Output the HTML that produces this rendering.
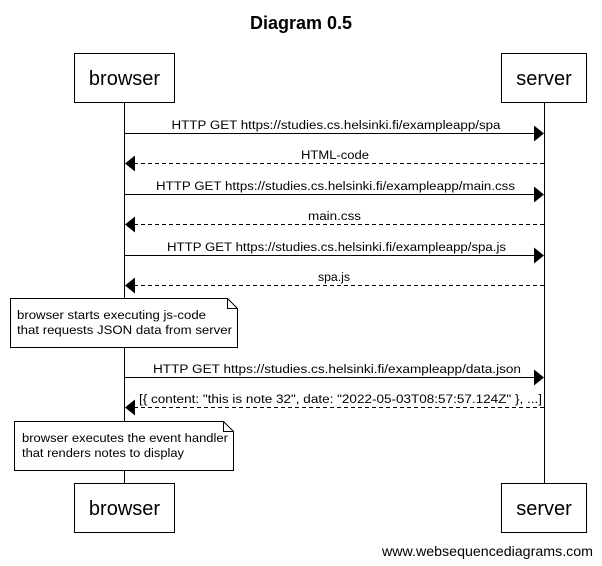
<!DOCTYPE html>
<html><head><meta charset="utf-8"><style>
html,body{margin:0;padding:0;background:#fff}
svg{display:block}
text{font-family:"Liberation Sans",Arial,sans-serif;fill:#000}
</style></head><body>
<svg width="602" height="566" viewBox="0 0 602 566" xmlns="http://www.w3.org/2000/svg">
<text x="301" y="29" font-size="18" font-weight="bold" text-anchor="middle">Diagram 0.5</text>
<line x1="124.5" y1="102" x2="124.5" y2="483" stroke="#000"/>
<line x1="544.5" y1="102" x2="544.5" y2="483" stroke="#000"/>
<rect x="74.5" y="53.5" width="100" height="49" fill="#fff" stroke="#000"/>
<text x="124.5" y="85" font-size="20" text-anchor="middle">browser</text>
<rect x="501.5" y="53.5" width="85" height="49" fill="#fff" stroke="#000"/>
<text x="544" y="85" font-size="20" text-anchor="middle">server</text>
<rect x="74.5" y="483.5" width="100" height="49" fill="#fff" stroke="#000"/>
<text x="124.5" y="515" font-size="20" text-anchor="middle">browser</text>
<rect x="501.5" y="483.5" width="85" height="49" fill="#fff" stroke="#000"/>
<text x="544" y="515" font-size="20" text-anchor="middle">server</text>
<g font-size="12.3" text-anchor="middle">
<line x1="124" y1="133.5" x2="535" y2="133.5" stroke="#000"/><polygon points="544,133.5 534,125.5 534,141.5" fill="#000"/>
<text x="336" y="129" textLength="329" lengthAdjust="spacingAndGlyphs">HTTP GET https://studies.cs.helsinki.fi/exampleapp/spa</text>
<line x1="134" y1="163.5" x2="544" y2="163.5" stroke="#000" stroke-dasharray="4,3"/><polygon points="125,163.5 135,155.5 135,171.5" fill="#000"/>
<text x="335" y="159" textLength="68" lengthAdjust="spacingAndGlyphs">HTML-code</text>
<line x1="124" y1="194.5" x2="535" y2="194.5" stroke="#000"/><polygon points="544,194.5 534,186.5 534,202.5" fill="#000"/>
<text x="335.5" y="190" textLength="359" lengthAdjust="spacingAndGlyphs">HTTP GET https://studies.cs.helsinki.fi/exampleapp/main.css</text>
<line x1="134" y1="224.5" x2="544" y2="224.5" stroke="#000" stroke-dasharray="4,3"/><polygon points="125,224.5 135,216.5 135,232.5" fill="#000"/>
<text x="334.5" y="220" textLength="53" lengthAdjust="spacingAndGlyphs">main.css</text>
<line x1="124" y1="255.5" x2="535" y2="255.5" stroke="#000"/><polygon points="544,255.5 534,247.5 534,263.5" fill="#000"/>
<text x="336.5" y="251" textLength="339" lengthAdjust="spacingAndGlyphs">HTTP GET https://studies.cs.helsinki.fi/exampleapp/spa.js</text>
<line x1="134" y1="285.5" x2="544" y2="285.5" stroke="#000" stroke-dasharray="4,3"/><polygon points="125,285.5 135,277.5 135,293.5" fill="#000"/>
<text x="334" y="281">spa.js</text>
<line x1="124" y1="377.5" x2="535" y2="377.5" stroke="#000"/><polygon points="544,377.5 534,369.5 534,385.5" fill="#000"/>
<text x="337" y="373" textLength="368" lengthAdjust="spacingAndGlyphs">HTTP GET https://studies.cs.helsinki.fi/exampleapp/data.json</text>
<line x1="134" y1="407.5" x2="544" y2="407.5" stroke="#000" stroke-dasharray="4,3"/><polygon points="125,407.5 135,399.5 135,415.5" fill="#000"/>
<text x="340.5" y="403" textLength="403" lengthAdjust="spacingAndGlyphs">[{ content: "this is note 32", date: "2022-05-03T08:57:57.124Z" }, ...]</text>
</g>
<path d="M10.5 298.5 H227.5 L237.5 308.5 V347.5 H10.5 Z" fill="#fff" stroke="#000"/>
<path d="M227.5 298.5 V308.5 H237.5" fill="none" stroke="#000"/>
<text x="17" y="319" font-size="12.3" textLength="189" lengthAdjust="spacingAndGlyphs">browser starts executing js-code</text>
<text x="17" y="334" font-size="12.3" textLength="215" lengthAdjust="spacingAndGlyphs">that requests JSON data from server</text>
<path d="M14.5 421.5 H223.5 L233.5 431.5 V470.5 H14.5 Z" fill="#fff" stroke="#000"/>
<path d="M223.5 421.5 V431.5 H233.5" fill="none" stroke="#000"/>
<text x="22" y="442" font-size="12.3" textLength="206" lengthAdjust="spacingAndGlyphs">browser executes the event handler</text>
<text x="22" y="457" font-size="12.3" textLength="162" lengthAdjust="spacingAndGlyphs">that renders notes to display</text>
<text x="382" y="556" font-size="14" textLength="211" lengthAdjust="spacingAndGlyphs">www.websequencediagrams.com</text>
</svg>
</body></html>
